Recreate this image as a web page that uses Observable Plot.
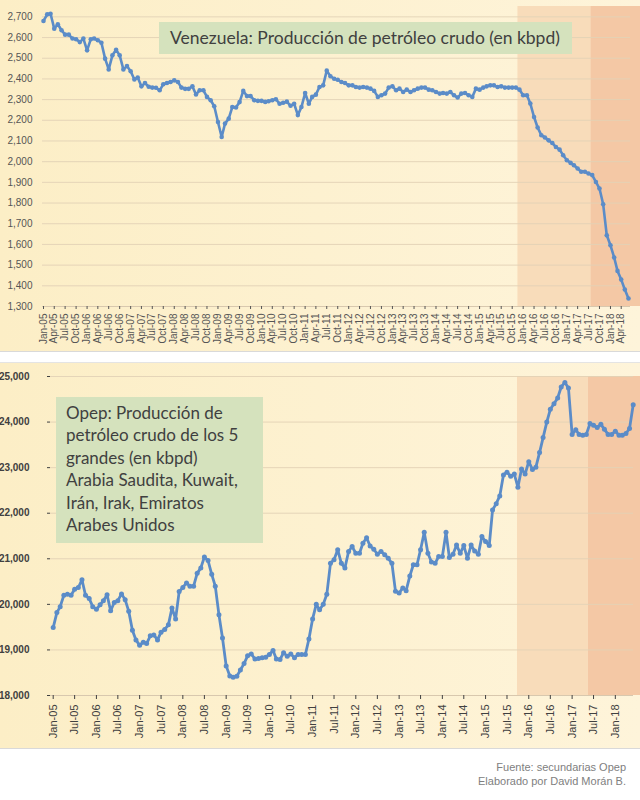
<!DOCTYPE html>
<html>
<head>
<meta charset="utf-8">
<script src="https://cdn.jsdelivr.net/npm/d3@7"></script>
<script src="https://cdn.jsdelivr.net/npm/@observablehq/plot@0.6"></script>
<style>
  html, body { margin: 0; padding: 0; background: #ffffff; }
  #wrap { position: relative; width: 640px; height: 800px; font-family: "Liberation Sans", Arial, sans-serif; }
  .panel { position: absolute; left: 0; width: 640px; overflow: hidden;
           background: linear-gradient(to right, #FCEEC6, #FEF4DA); }
  .panel svg { display: block; }
  .tbox { position: absolute; background: #D5E2BD; color: #404040;
          font-family: Lato, "Open Sans", sans-serif; box-sizing: border-box; }
  #cap { position: absolute; right: 14px; top: 760px; text-align: right;
         font: 11px "Liberation Sans", Arial, sans-serif; color: #808080; line-height: 14px; }
</style>
</head>
<body>
<div id="wrap">
  <div class="panel" id="p1" style="top:0;height:351px;border-bottom:1px solid #D9D9D9;"></div>
  <div class="panel" id="p2" style="top:362px;height:385px;border-top:1px solid #E4E4E4;border-bottom:1px solid #D9D9D9;"></div>
  <div class="tbox" style="left:159px;top:22px;width:413px;height:32px;line-height:32px;padding-left:11px;font-size:17.5px;">Venezuela: Producción de petróleo crudo (en kbpd)</div>
  <div class="tbox" style="left:56px;top:397px;width:207px;height:146px;line-height:22.4px;padding:5px 0 0 10px;font-size:17px;">Opep: Producción de<br>petróleo crudo de los 5<br>grandes (en kbpd)<br>Arabia Saudita, Kuwait,<br>Irán, Irak, Emiratos<br>Arabes Unidos</div>
  <div id="cap">Fuente: secundarias Opep<br>Elaborado por David Morán B.</div>
</div>
<script>
// ---- data: monthly, Jan-2005 .. Jun-2018 ----
const firstYear = 2005;
const venezuela = [
  2680, 2712, 2715, 2643, 2664, 2635, 2614, 2614, 2595, 2592, 2578, 2595,
  2538, 2592, 2595, 2587, 2575, 2498, 2446, 2514, 2541, 2514, 2446, 2462,
  2437, 2397, 2407, 2364, 2380, 2362, 2358, 2357, 2345, 2374, 2380, 2385,
  2393, 2385, 2358, 2352, 2352, 2364, 2325, 2345, 2345, 2313, 2297, 2268,
  2192, 2119, 2184, 2208, 2264, 2262, 2288, 2342, 2317, 2317, 2297, 2294,
  2294, 2289, 2292, 2297, 2302, 2280, 2285, 2290, 2270, 2280, 2225, 2264,
  2332, 2280, 2313, 2324, 2361, 2369, 2440, 2413, 2401, 2396, 2385, 2380,
  2369, 2369, 2361, 2358, 2361, 2358, 2353, 2342, 2313, 2321, 2329, 2358,
  2364, 2345, 2353, 2337, 2348, 2337, 2345, 2353, 2358, 2358, 2348, 2345,
  2337, 2329, 2332, 2329, 2337, 2321, 2310, 2329, 2332, 2321, 2313, 2353,
  2348, 2358, 2364, 2369, 2369, 2361, 2364, 2358, 2358, 2358, 2358, 2348,
  2321, 2321, 2281, 2216, 2165, 2128, 2117, 2103, 2090, 2071, 2058, 2031,
  2007, 1994, 1983, 1967, 1951, 1951, 1943, 1935, 1902, 1870, 1794, 1644,
  1596, 1537, 1472, 1430, 1382, 1339
];
const opep5 = [
  19490, 19820, 19950, 20200, 20220, 20200, 20330, 20370, 20540, 20200, 20130, 19950,
  19890, 19990, 20080, 20210, 19860, 20040, 20080, 20230, 20100, 19850, 19430, 19220,
  19100, 19170, 19140, 19310, 19330, 19220, 19390, 19450, 19550, 19920, 19680, 20280,
  20370, 20470, 20400, 20400, 20680, 20800, 21040, 20960, 20660, 20400, 19770, 19260,
  18650, 18430, 18400, 18420, 18560, 18700, 18870, 18910, 18800, 18810, 18830, 18840,
  18900, 18990, 18800, 18790, 18940, 18860, 18910, 18830, 18900, 18900, 18900, 19240,
  19680, 20000, 19880, 20000, 20220, 20900, 20980, 21200, 20900, 20800, 21160, 21270,
  21120, 21120, 21340, 21460, 21280, 21210, 21100, 21160, 21090, 21010, 20900, 20290,
  20250, 20360, 20300, 20620, 20870, 20870, 21200, 21580, 21120, 20930, 20900, 21050,
  21050, 21580, 21030, 21100, 21300, 21120, 21290, 21010, 21300, 21170, 21100, 21490,
  21380, 21290, 22070, 22210, 22380, 22840, 22900, 22810, 22860, 22570, 22970, 22860,
  23130, 22960, 23010, 23330, 23660, 24000, 24280, 24400, 24530, 24770, 24870, 24750,
  23730, 23830, 23730, 23710, 23730, 23970, 23930, 23880, 23950, 23840, 23730, 23730,
  23800, 23710, 23710, 23750, 23860, 24380
];
// shaded periods (start dates) for each panel; they run to the right edge
const topBandStarts = ["2015-11-18", "2017-07-21"];
const bottomBandStarts = ["2015-09-28", "2017-05-18"];
const bandEnd = "2018-10-15";
const topYTicks = d3.range(1300, 2701, 100);
const bottomYTicks = d3.range(18000, 25001, 1000);

// ---- derived tables ----
const months = venezuela.map((_, i) => new Date(Date.UTC(firstYear, i, 1)));
const venData = venezuela.map((v, i) => ({date: months[i], value: v}));
const opepData = opep5.map((v, i) => ({date: months[i], value: v}));
const topXTicks = months.filter((d, i) => i % 3 === 0);
const bottomXTicks = months.filter((d, i) => i % 6 === 0);
const bandFills = ["#F8DCBA", "#F4C8A5"];
const mkBands = (starts) => starts.map((s, i) => ({
  start: new Date(s), end: new Date(i + 1 < starts.length ? starts[i + 1] : bandEnd), k: i
}));
const fmtMonth = d3.utcFormat("%b-%y");
const lineColor = "#5B8CC8";
const font = "'Liberation Sans', Arial, sans-serif";

function stretchBands(svg, h) {
  svg.querySelectorAll('g[aria-label="band"] rect').forEach(r => {
    r.setAttribute("y", 0); r.setAttribute("height", h);
  });
}

// ---- top chart ----
const H1 = 351;
const topChart = Plot.plot({
  width: 640, height: H1,
  marginLeft: 42, marginRight: 10, marginTop: 6, marginBottom: 45,
  style: {background: "none", fontFamily: font},
  x: {type: "utc", domain: [months[0], months[months.length - 1]], range: [43, 628]},
  y: {domain: [1300, 2750], range: [306, 6]},
  marks: [
    Plot.rect(mkBands(topBandStarts), {x1: "start", x2: "end", fill: d => bandFills[d.k], ariaLabel: "band"}),
    Plot.gridY(topYTicks, {stroke: "#E2D2B6", strokeOpacity: 0.9}),
    Plot.ruleY([1300], {stroke: "#D8C8AE"}),
    Plot.axisY(topYTicks, {tickSize: 0, tickPadding: 10, tickFormat: d3.format(","), fontSize: 10, color: "#555555", label: null}),
    Plot.axisX(topXTicks, {tickRotate: -90, tickFormat: fmtMonth, tickSize: 3, tickPadding: 4, fontSize: 10, color: "#555555", label: null}),
    Plot.line(venData, {x: "date", y: "value", stroke: lineColor, strokeWidth: 2.6}),
    Plot.dot(venData, {x: "date", y: "value", r: 2.3, fill: lineColor})
  ]
});
stretchBands(topChart, H1);
document.getElementById("p1").appendChild(topChart);

// ---- bottom chart ----
const H2 = 385;
const bottomChart = Plot.plot({
  width: 640, height: H2,
  marginLeft: 50, marginRight: 7, marginTop: 13, marginBottom: 53,
  style: {background: "none", fontFamily: font},
  x: {type: "utc", domain: [months[0], months[months.length - 1]], range: [52.7, 632.7]},
  y: {domain: [18000, 25000], range: [332, 13]},
  marks: [
    Plot.rect(mkBands(bottomBandStarts), {x1: "start", x2: "end", fill: d => bandFills[d.k], ariaLabel: "band"}),
    Plot.gridY(bottomYTicks, {stroke: "#E2D2B6", strokeOpacity: 0.9}),
    Plot.ruleY([18000], {stroke: "#D8C8AE"}),
    Plot.axisY(bottomYTicks, {tickSize: 3, tickPadding: 18, tickFormat: d3.format(","), fontSize: 10, fontWeight: "bold", color: "#404040", label: null}),
    Plot.axisX(bottomXTicks, {tickRotate: -90, tickFormat: fmtMonth, tickSize: 4, tickPadding: 5, fontSize: 11, color: "#404040", label: null}),
    Plot.line(opepData, {x: "date", y: "value", stroke: lineColor, strokeWidth: 2.8}),
    Plot.dot(opepData, {x: "date", y: "value", r: 2.5, fill: lineColor})
  ]
});
stretchBands(bottomChart, H2);
document.getElementById("p2").appendChild(bottomChart);
</script>
</body>
</html>
